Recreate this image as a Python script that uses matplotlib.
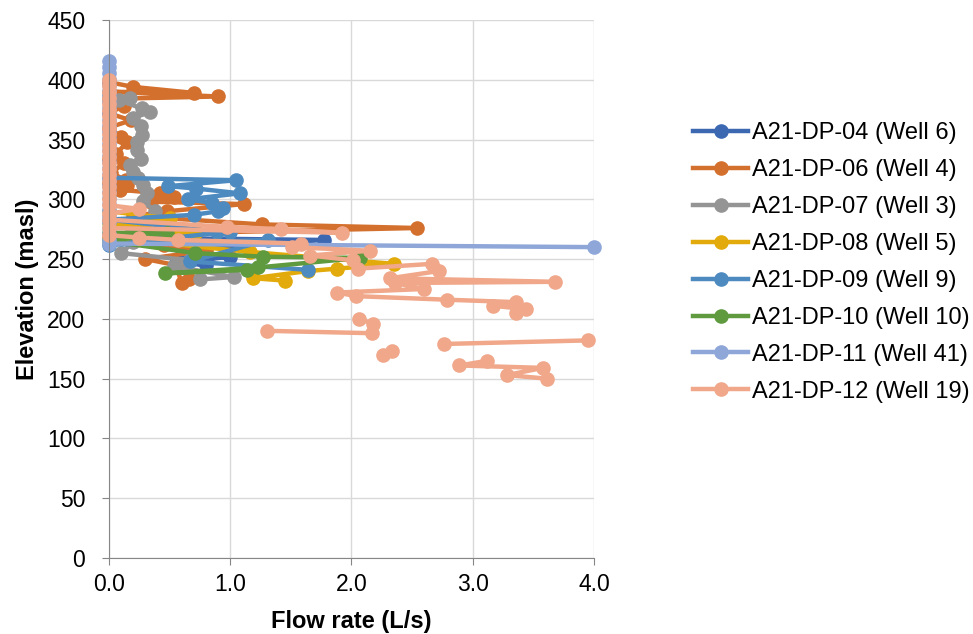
import numpy as np
import matplotlib
matplotlib.use("Agg")
import matplotlib.pyplot as plt

plt.rcParams['font.family'] = ['Liberation Sans', 'DejaVu Sans']

nan = np.nan

# ------------------------------- data (flow L/s, elevation masl)
well6_flow = [0, 1.77, 0.60, 0.75, 1.00, 0.55, 0.80]
well6_elev = [268, 266, 258, 250, 252, 247, 245]

well4_flow = [0, 0.20, 0.70, 0, 0.90, 0, 0.12, 0, 0.18, 0, 0.10, 0.15, 0.06, 0, 0.12, 0.02,
              0.14, 0, 0.15, 0.09, 0.42, 0.54, 0.35, 1.11, 0.48, 0.20, 1.26, 2.54, 0.70, 0.45,
              0.80, 0.30, 0.55, 0.60, 0.66]
well4_elev = [398, 394, 389, 390, 386, 384, 378, 372, 366, 360, 352, 348, 338, 334, 330, 322,
              316, 314, 312, 308, 305, 302, 298, 296, 290, 286, 279, 276, 272, 262,
              257, 250, 245, 230, 233]

well3_flow = [0, 0.17, 0.08, 0.27, 0.34, 0.20, 0.26, 0.27, 0.23, 0.23, 0.26, 0.17, 0.20, 0.24,
              0.28, 0.31, 0.28, 0.38, 0.23, 0.17, 0.20, 0.10, 0.67, 0.54, 1.03, 0.75]
well3_elev = [386, 385, 383, 376, 373, 368, 361, 354, 348, 341, 334, 329, 323, 318,
              312, 305, 299, 290, 276, 270, 264, 255, 249, 244, 235, 233]

well5_flow = [0, 0.50, 0, 0.57, 0.72, 0, 1.16, 2.35, 1.88, 1.64, 1.19, 1.45]
well5_elev = [290, 284, 280, 273, 273, 268, 256, 246, 242, 240, 234, 232]

well9_flow = [0, 1.05, 0.49, 0.72, 1.08, 0.65, 0.85, 0.94, 0.90, 0.70, 0, 0.89, 1.00, 0,
              1.31, 0.67, 1.64]
well9_elev = [318, 316, 311, 309, 305, 300, 297, 293, 290, 287, 283, 273, 273, 262,
              266, 248, 241]

well10_flow = [0, 0.48, 0, 0.71, 1.27, 2.07, 1.23, 0.46, 1.14]
well10_elev = [272, 272, 265, 255, 252, 251, 243, 238, 241]

well41_flow = [0, 0, 0, 0, 0, 0, 0, 0, 0, 0, 0, 0, 0, 0, 0, 0, 0, 0, 0, 0, 0, 0, 0, 0, 0, 0,
               0, 0, 0, 0, 0, 0, 4.0]
well41_elev = [416, 411, 406, 401, 396, 391, 386, 381, 376, 371, 366, 361, 356, 351, 346, 341,
               336, 331, 326, 321, 316, 311, 306, 301, 296, 291, 286, 281, 276, 271, 266, 263, 260]

well19_flow = [0, 0, 0, 0, 0, 0, 0, 0, 0, 0, 0, 0, 0, 0, 0, 0, 0, 0, 0, 0, 0, 0,
               0.25, 0, 0, 0.97, 1.42, 1.92, 0, 0, 0.25, 0.57, 1.58, 1.51, 2.15, 1.66, 2.01, 2.05,
               2.66, 2.72, 2.32, 3.68, 2.36, 2.60, 1.88, 2.04, 2.79, 3.36, 3.17, 3.44, 3.36,
               nan, 2.06, 2.18, nan, 1.30, 2.17, nan, 2.76, 3.95, nan, 2.33, 2.26,
               nan, 3.12, 2.89, 3.58, 3.28, 3.61]
well19_elev = [400, 395, 390, 385, 380, 375, 370, 365, 360, 355, 350, 345, 340, 335, 330, 325,
               320, 315, 310, 305, 300, 295,
               292, 288, 283, 277, 275, 272, 276, 270, 268, 266, 263, 260, 257, 253, 249, 242,
               246, 240, 234, 231, 230, 225, 222, 219, 216, 214, 211, 208, 205,
               nan, 200, 196, nan, 190, 188, nan, 179, 182, nan, 173, 170,
               nan, 165, 161, 159, 153, 150]

labels = ['A21-DP-04 (Well 6)', 'A21-DP-06 (Well 4)', 'A21-DP-07 (Well 3)', 'A21-DP-08 (Well 5)',
          'A21-DP-09 (Well 9)', 'A21-DP-10 (Well 10)', 'A21-DP-11 (Well 41)', 'A21-DP-12 (Well 19)']
colors = ['#3C68B2', '#D4702E', '#949494', '#E2AA0A', '#4D8AC0', '#5F9A3E', '#8EA7D8', '#F0A78A']

series = [(well6_flow, well6_elev), (well4_flow, well4_elev), (well3_flow, well3_elev),
          (well5_flow, well5_elev), (well9_flow, well9_elev), (well10_flow, well10_elev),
          (well41_flow, well41_elev), (well19_flow, well19_elev)]
# -------------------------------

fig = plt.figure(figsize=(9.73, 6.34), dpi=100)
ax = fig.add_axes([0.112, 0.1199, 0.4985, 0.8486])

for (x, y), lab, c in zip(series, labels, colors):
    ax.plot(x, y, color=c, lw=3.2, marker='o', ms=9.5, label=lab, clip_on=False)

ax.set_xlim(0, 4)
ax.set_ylim(0, 450)
ax.set_xticks([0, 1, 2, 3, 4])
ax.set_xticklabels(['0.0', '1.0', '2.0', '3.0', '4.0'])
ax.set_yticks(range(0, 451, 50))
ax.grid(True, color='#D9D9D9', lw=1)
ax.set_axisbelow(True)
for s in ['top', 'right']:
    ax.spines[s].set_visible(False)
for s in ['left', 'bottom']:
    ax.spines[s].set_color('#868686')
ax.tick_params(colors='#868686', labelcolor='black', labelsize=16.5, length=5, direction='out')
ax.tick_params(axis='x', pad=6)
ax.tick_params(axis='y', pad=12)

ax.set_xlabel('Flow rate (L/s)', fontsize=17, fontweight='bold', labelpad=10)
ax.set_ylabel('Elevation (masl)', fontsize=17, fontweight='bold', labelpad=6)

fig.legend(loc='center left', bbox_to_anchor=(0.703, 0.586), frameon=False, fontsize=17,
           handlelength=2.3, labelspacing=0.63, handletextpad=0.2, borderaxespad=0)

fig.savefig('out.png', dpi=100)
